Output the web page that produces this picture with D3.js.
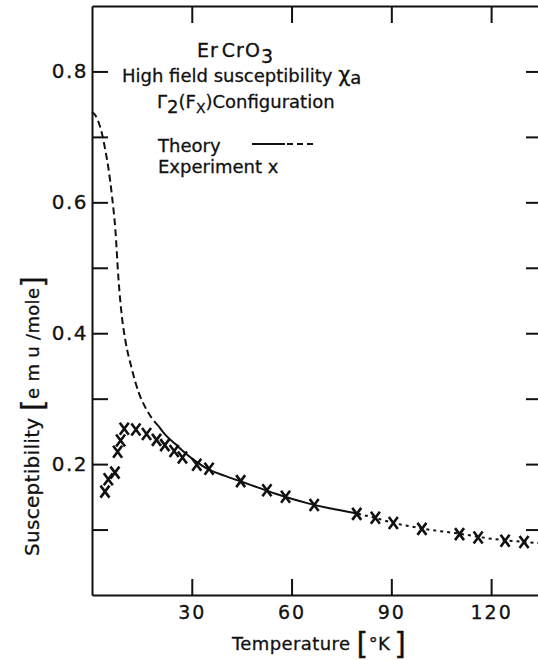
<!DOCTYPE html>
<html>
<head>
<meta charset="utf-8">
<script src="https://cdn.jsdelivr.net/npm/d3@7"></script>
<style>
  body { margin: 0; background: #fff; }
  svg { display: block; }
  text { font-family: "DejaVu Sans", sans-serif; fill: #111; stroke: #111; stroke-width: 0.3px; }
</style>
</head>
<body>
<svg id="chart" width="538" height="660"></svg>
<script>
// Temperature axis ticks (°K) and susceptibility axis ticks (emu/mole)
const temperatureTicks = [30, 60, 90, 120];
const susceptibilityTicks = [0.1, 0.2, 0.3, 0.4, 0.5, 0.6, 0.7, 0.8];
const susceptibilityLabels = ["", "0.2", "", "0.4", "", "0.6", "", "0.8"];

// Measured high-field susceptibility (experiment, x markers)
const expTemperature = [3.9, 4.9, 6.9, 7.7, 8.6, 9.7, 13.2, 16.4, 19.4, 21.9, 24.7, 27.2, 31.5, 35.2,
  44.7, 52.6, 58.2, 66.8, 79.6, 85.2, 90.6, 99.2, 110.5, 116.1, 124.2, 129.9];
const expSusceptibility = [0.158, 0.177, 0.187, 0.219, 0.236, 0.254, 0.253, 0.246, 0.237, 0.229, 0.220, 0.210, 0.199, 0.193,
  0.174, 0.160, 0.150, 0.1375, 0.124, 0.118, 0.110, 0.101, 0.093, 0.088, 0.083, 0.081];

// Calculated susceptibility for the Γ2(Fx) configuration
const theoryTemperature = [0, 1, 2, 3, 4, 5, 6, 7, 8, 9, 10, 12, 14, 16, 18, 20, 22, 25, 28, 31, 35,
  40, 45, 50, 55, 60, 65, 70, 75, 80, 85, 90, 100, 110, 120, 130, 135];
const theorySusceptibility = [0.738, 0.733, 0.722, 0.705, 0.680, 0.650, 0.610, 0.560, 0.480, 0.425, 0.390, 0.345, 0.310, 0.287, 0.270, 0.258, 0.245, 0.231, 0.217, 0.205, 0.192,
  0.182, 0.173, 0.164, 0.155, 0.147, 0.140, 0.134, 0.129, 0.124, 0.118, 0.111, 0.101, 0.094, 0.086, 0.081, 0.079];

// Temperature ranges drawn dashed (low T), solid, and finely dashed (high T)
const dashedEnd = 20;
const solidEnd = 80;

const svg = d3.select("#chart");
const x = d3.scaleLinear().domain([0, 135]).range([92, 541]);
const y = d3.scaleLinear().domain([0, 0.9]).range([595, 6]);

const axisStyle = g => {
  g.selectAll("path.domain").attr("stroke", "#111").attr("stroke-width", 2);
  g.selectAll(".tick line").attr("stroke", "#111").attr("stroke-width", 2);
};
const labelStyle = (size, spacing) => g => g.selectAll("text")
  .attr("font-size", size).attr("letter-spacing", spacing)
  .attr("font-family", "\"DejaVu Sans\", sans-serif")
  .attr("fill", "#111").attr("stroke", "#111").attr("stroke-width", 0.3);

// Bottom axis with inward ticks
svg.append("g")
  .attr("transform", `translate(0,${y(0)})`)
  .call(d3.axisBottom(x).tickValues(temperatureTicks).tickSize(-16).tickSizeOuter(0).tickPadding(11))
  .call(axisStyle)
  .call(labelStyle(19, 2));

// Top frame with inward ticks
svg.append("g")
  .attr("transform", `translate(0,${y(0.9)})`)
  .call(d3.axisTop(x).tickValues(temperatureTicks).tickSize(-17).tickSizeOuter(0).tickFormat(""))
  .call(axisStyle);

// Left axis: labelled majors, unlabelled minors
svg.append("g")
  .attr("transform", `translate(${x(0)},0)`)
  .call(d3.axisLeft(y).tickValues(susceptibilityTicks).tickSize(-16).tickSizeOuter(0).tickPadding(4)
    .tickFormat((d, i) => susceptibilityLabels[i]))
  .call(axisStyle)
  .call(labelStyle(20, 1.5));

// Right frame with inward ticks
svg.append("g")
  .attr("transform", `translate(${x(135)},0)`)
  .call(d3.axisRight(y).tickValues(susceptibilityTicks).tickSize(-15).tickSizeOuter(0).tickFormat(""))
  .call(axisStyle);

// Theory curve split into its three line styles
const theory = theoryTemperature.map((t, i) => ({ t, v: theorySusceptibility[i] }));
const line = d3.line().x(d => x(d.t)).y(d => y(d.v)).curve(d3.curveMonotoneX);
const segments = [
  { data: theory.filter(d => d.t <= dashedEnd), dash: "7,4" },
  { data: theory.filter(d => d.t >= dashedEnd && d.t <= solidEnd), dash: null },
  { data: theory.filter(d => d.t >= solidEnd), dash: "3,4" }
];
svg.append("g").selectAll("path")
  .data(segments)
  .join("path")
  .attr("d", d => line(d.data))
  .attr("fill", "none")
  .attr("stroke", "#111")
  .attr("stroke-width", 2)
  .attr("stroke-dasharray", d => d.dash);

// Experimental points as x markers
const experiment = expTemperature.map((t, i) => ({ t, v: expSusceptibility[i] }));
svg.append("g").selectAll("path")
  .data(experiment)
  .join("path")
  .attr("transform", d => `translate(${x(d.t)},${y(d.v)})`)
  .attr("d", "M-4.5,-6L4.5,6M4.5,-6L-4.5,6")
  .attr("stroke", "#111")
  .attr("stroke-width", 2.6)
  .attr("fill", "none");

// Title block and legend
const note = svg.append("g").attr("font-size", 18);
const t1 = note.append("text").attr("x", 197).attr("y", 57).attr("font-size", 19).attr("letter-spacing", 1);
t1.append("tspan").text("Er");
t1.append("tspan").attr("dx", 3).text("CrO");
t1.append("tspan").attr("dy", 6).text("3");

const t2 = note.append("text").attr("x", 122).attr("y", 82);
t2.append("tspan").text("High field susceptibility ");
t2.append("tspan").attr("font-size", 21).text("χ");
t2.append("tspan").attr("dy", 2).text("a");

const t3 = note.append("text").attr("x", 157).attr("y", 108);
t3.append("tspan").text("Γ");
t3.append("tspan").attr("dy", 5).text("2");
t3.append("tspan").attr("dy", -5).text("(F");
t3.append("tspan").attr("dy", 5).attr("font-size", 14).text("X");
t3.append("tspan").attr("dy", -5).text(")Configuration");

note.append("text").attr("x", 158).attr("y", 152).text("Theory");
note.append("line").attr("x1", 252).attr("x2", 285).attr("y1", 144).attr("y2", 144)
  .attr("stroke", "#111").attr("stroke-width", 2);
note.append("line").attr("x1", 287).attr("x2", 317).attr("y1", 144).attr("y2", 144)
  .attr("stroke", "#111").attr("stroke-width", 2).attr("stroke-dasharray", "6,4");
note.append("text").attr("x", 158).attr("y", 173).text("Experiment x");

// Axis titles
const xt = svg.append("text").attr("x", 232).attr("y", 650).attr("font-size", 18).attr("letter-spacing", 0.4);
xt.append("tspan").text("Temperature ");
xt.append("tspan").attr("font-size", 30).attr("dy", 4).text("[");
xt.append("tspan").attr("font-size", 18).attr("dy", -4).text("°K");
xt.append("tspan").attr("font-size", 30).attr("dy", 4).attr("dx", 4).text("]");

const yt = svg.append("text").attr("transform", "translate(39,556) rotate(-90)").attr("font-size", 20).attr("letter-spacing", 0.3);
yt.append("tspan").text("Susceptibility ");
yt.append("tspan").attr("font-size", 30).attr("dy", 4).text("[");
yt.append("tspan").attr("font-size", 18).attr("dy", -4).text("e m u /mole");
yt.append("tspan").attr("font-size", 30).attr("dy", 4).text("]");
</script>
</body>
</html>
